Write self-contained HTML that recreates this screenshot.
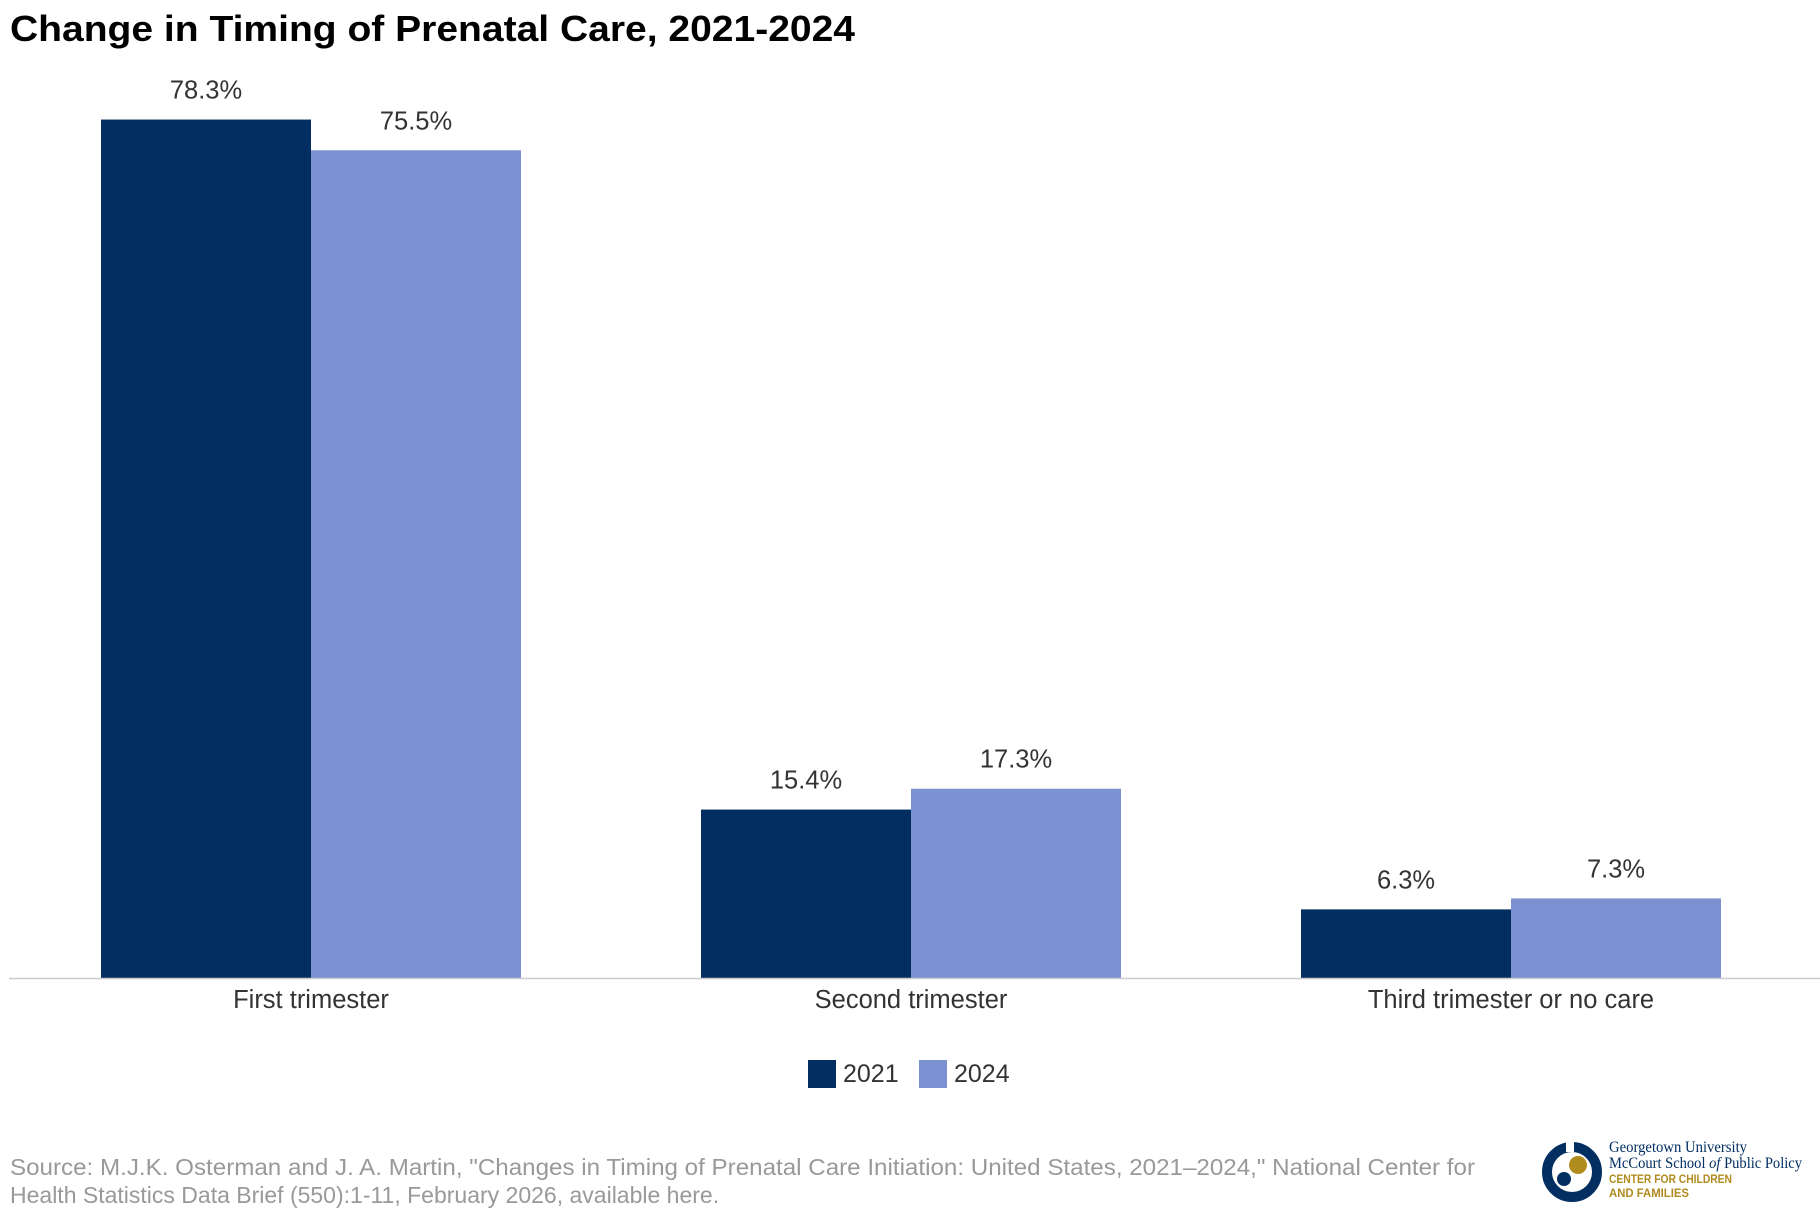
<!DOCTYPE html>
<html><head><meta charset="utf-8"><style>
body{margin:0;background:#fff;width:1820px;height:1220px;overflow:hidden;font-family:"Liberation Sans",sans-serif}
</style></head><body>
<svg id="chart" width="1820" height="1220" xmlns="http://www.w3.org/2000/svg" font-family="Liberation Sans, sans-serif">
<text x="10" y="41" font-size="36" font-weight="bold" fill="#000" textLength="845" lengthAdjust="spacingAndGlyphs">Change in Timing of Prenatal Care, 2021-2024</text>
<g id="bars"></g>
<line x1="9" y1="978.5" x2="1820" y2="978.5" stroke="#ccc" stroke-width="1.5"/>
<g>
<rect x="808" y="1060" width="28" height="28" fill="#022e61"/>
<text x="843" y="1082" font-size="25" fill="#333">2021</text>
<rect x="919" y="1060" width="28" height="28" fill="#7b91d1"/>
<text x="954" y="1082" font-size="25" fill="#333">2024</text>
</g>
<text font-size="23" fill="#999"><tspan x="10" y="1175" textLength="1465" lengthAdjust="spacingAndGlyphs">Source: M.J.K. Osterman and J. A. Martin, "Changes in Timing of Prenatal Care Initiation: United States, 2021–2024," National Center for</tspan><tspan x="10" y="1203">Health Statistics Data Brief (550):1-11, February 2026, available here.</tspan></text>
<g>
<circle cx="1572" cy="1172" r="25" fill="none" stroke="#022e61" stroke-width="10"/>
<rect x="1566" y="1140" width="8" height="12" fill="#fff"/>
<circle cx="1578" cy="1165" r="9" fill="#b08b1e"/>
<circle cx="1564" cy="1179" r="7" fill="#022e61"/>
<text x="1609" y="1152" font-size="16" font-family="Liberation Serif, serif" fill="#022e61" textLength="138" lengthAdjust="spacingAndGlyphs">Georgetown University</text>
<text x="1609" y="1168" font-size="16" font-family="Liberation Serif, serif" fill="#022e61" textLength="193" lengthAdjust="spacingAndGlyphs">McCourt School <tspan font-style="italic">of</tspan> Public Policy</text>
<text x="1609" y="1183" font-size="12" font-weight="bold" fill="#b08b1e" textLength="123" lengthAdjust="spacingAndGlyphs">CENTER FOR CHILDREN</text>
<text x="1609" y="1197" font-size="12" font-weight="bold" fill="#b08b1e" textLength="80" lengthAdjust="spacingAndGlyphs">AND FAMILIES</text>
</g>
</svg>
<script>
const categories = ["First trimester", "Second trimester", "Third trimester or no care"];
const series2021 = [78.3, 15.4, 6.3];
const series2024 = [75.5, 17.3, 7.3];
const valueLabels2021 = ["78.3%", "15.4%", "6.3%"];
const valueLabels2024 = ["75.5%", "17.3%", "7.3%"];

const NS = "http://www.w3.org/2000/svg";
const baseY = 978.5, pxPerUnit = 10.97, groupX0 = 101, groupStep = 600, barW = 210;
const yScale = v => baseY - v * pxPerUnit;
const xScale = i => groupX0 + i * groupStep;
const g = document.getElementById("bars");
function mk(tag, attrs){const e=document.createElementNS(NS,tag);for(const k in attrs)e.setAttribute(k,attrs[k]);g.appendChild(e);return e;}
const sets = [[series2021, valueLabels2021, "#022e61", "2021"], [series2024, valueLabels2024, "#7b91d1", "2024"]];
categories.forEach((c, i) => {
  sets.forEach((s, j) => {
    const x = xScale(i) + j * barW, y = yScale(s[0][i]);
    const r = mk("rect", {x: x, y: y, width: barW, height: baseY - y, fill: s[2]});
    
    
    const t = mk("text", {x: x + barW / 2, y: y - 21, "font-size": 25.5, fill: "#333", "text-anchor": "middle"});
    t.textContent = s[1][i];
    
    
  });
  const ct = mk("text", {x: xScale(i) + barW, y: 1008, "font-size": 25.5, fill: "#333", "text-anchor": "middle"});
  ct.textContent = c;
  
  
});
</script>
</body></html>
